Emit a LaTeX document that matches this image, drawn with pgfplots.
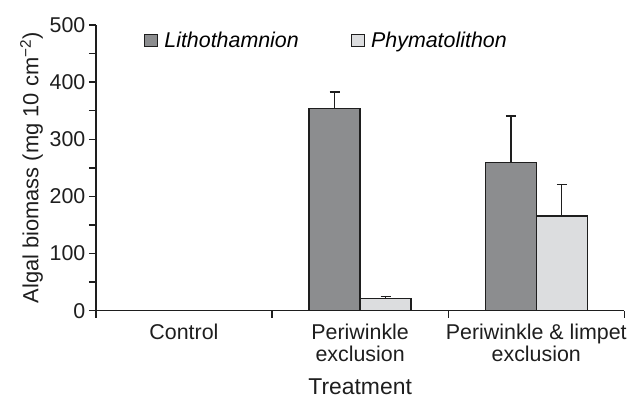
\documentclass[border=0pt]{standalone}
\usepackage{fontspec}
\setmainfont{Liberation Sans}
\usepackage{pgfplots}
\pgfplotsset{compat=1.18}
\definecolor{lith}{RGB}{140,141,143}
\definecolor{phym}{RGB}{220,221,223}
\definecolor{edge}{RGB}{30,30,30}
\begin{document}
\begin{tikzpicture}
\begin{axis}[
  scale only axis,
  width=529bp, height=286bp,
  xmin=-0.5, xmax=2.5,
  ymin=0, ymax=500,
  axis lines*=left,
  axis line style={line width=1.6bp, color=edge},
  every tick/.style={line width=1.4bp, color=edge},
  tick align=outside,
  xtick={0,1,2},
  xticklabels={Control, Periwinkle\\exclusion, Periwinkle \& limpet\\exclusion},
  xticklabel style={align=center, font=\fontsize{21.5}{22}\selectfont, text=edge, yshift=-3bp},
  major x tick style={draw=none},
  minor xtick={-0.5,0.5,1.5,2.5},
  minor tick length=7bp,
  major tick length=7bp,
  ytick={0,100,...,500},
  minor ytick={50,150,...,450},
  yticklabel style={font=\fontsize{21.5}{22}\selectfont, text=edge},
  /pgf/number format/assume math mode=true,
  ylabel={Algal biomass (mg 10 cm\textsuperscript{−2})},
  ylabel style={font=\fontsize{22}{22}\selectfont, text=edge},
  xlabel={Treatment},
  xlabel style={font=\fontsize{23}{23}\selectfont, text=edge, yshift=-10bp},
  ybar=0pt,
  bar width=51bp,
  legend style={draw=none, fill=none, at={(rel axis cs:0.085,0.99)}, anchor=north west,
    font=\fontsize{21.5}{22}\selectfont\itshape, legend columns=2,
    /tikz/every even column/.append style={column sep=50bp},
    /tikz/every odd column/.append style={column sep=4bp}},
  legend image code/.code={\draw[#1, line width=1.4bp] (0bp,-6bp) rectangle (13bp,6bp);},
  error bars/y dir=plus,
  error bars/y explicit,
  error bars/error mark options={rotate=90, mark size=5bp, line width=1.4bp, color=edge},
  error bars/error bar style={line width=1.4bp, color=edge},
  clip=false,
]
\addplot[fill=lith, draw=edge, line width=1.4bp] coordinates {
  (0,0) +- (0,0)
  (1,354) +- (0,29)
  (2,259) +- (0,82)
};
\addplot[fill=phym, draw=edge, line width=1.4bp] coordinates {
  (0,0) +- (0,0)
  (1,21.5) +- (0,3.5)
  (2,166) +- (0,55)
};
\legend{Lithothamnion, Phymatolithon}
\end{axis}
\path ([shift={(-96bp,-89bp)}]current axis.south west) rectangle ([shift={(5bp,25bp)}]current axis.north east);
\end{tikzpicture}
\end{document}
